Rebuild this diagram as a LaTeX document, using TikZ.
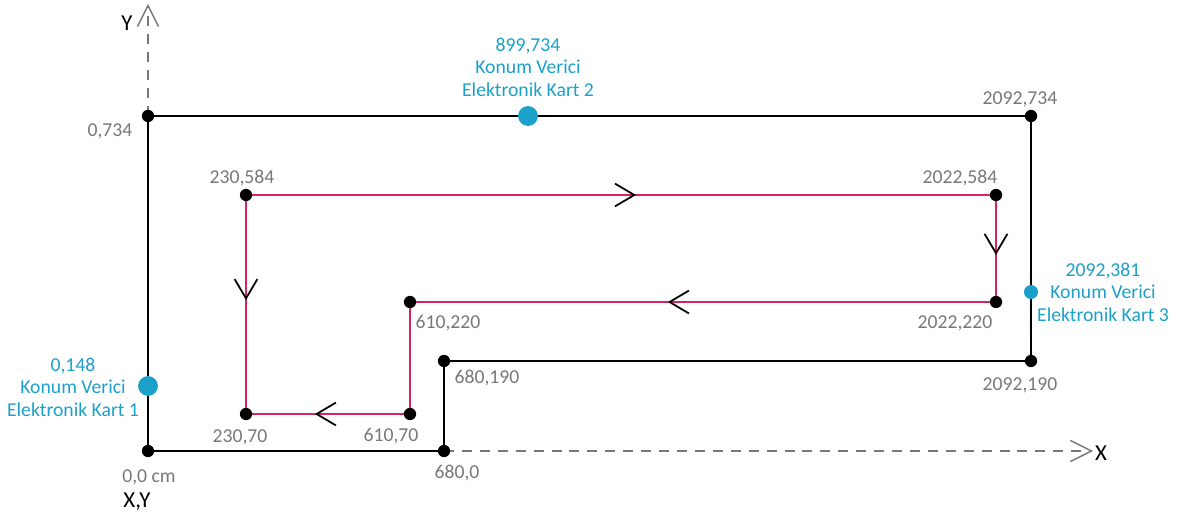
\documentclass[tikz,border=0pt]{standalone}
\usepackage{fontspec}
\setmainfont{Carlito}
\usetikzlibrary{arrows.meta,decorations.markings}
\definecolor{kartblue}{RGB}{27,161,201}
\definecolor{routered}{RGB}{214,36,92}
\definecolor{coordgray}{RGB}{120,120,120}
\begin{document}
\begin{tikzpicture}[
        x = 0.02cm, % one pixel of the plan
        y = -0.02cm, % y runs downwards
        font = \fontsize{11.2}{12.8}\selectfont,
        flow/.style = {postaction = {decorate, decoration = {markings,
            mark = at position #1 with {\arrow[black, line width=1pt]{Straight Barb[length=11pt,width=13pt]}}}}}
      ]

      \tikzstyle{wall}=[black, line width=1.3pt]
      \tikzstyle{route}=[routered, line width=1.1pt]
      \tikzstyle{corner}=[circle, fill=black, inner sep=0pt, minimum size=7pt]
      \tikzstyle{kart}=[circle, fill=kartblue, inner sep=0pt, minimum size=11.3pt]
      \tikzstyle{coord}=[coordgray, inner sep=0pt]
      \tikzstyle{kartlabel}=[kartblue, align=center, inner sep=0pt]
      \tikzstyle{axislabel}=[black, inner sep=0pt, font=\fontsize{13}{14}\selectfont]
      \tikzstyle{axis}=[coordgray, line width=0.8pt, dash pattern=on 5.7pt off 4.5pt,
        -{Straight Barb[length=12pt,width=12pt,line width=0.8pt]}]

      \useasboundingbox (0,0) rectangle (1184,523);

      % room outline
      \coordinate (o) at (148,451);
      \coordinate (tl) at (148,116);
      \coordinate (tr) at (1031,116);
      \coordinate (br) at (1031,361);
      \coordinate (nb) at (444,361);
      \coordinate (nf) at (444,451);

      % route
      \coordinate (r1) at (246,195);
      \coordinate (r2) at (996,195);
      \coordinate (r3) at (996,302);
      \coordinate (r4) at (410,302);
      \coordinate (r5) at (410,414);
      \coordinate (r6) at (246,414);

      \coordinate (ytip) at (148,4);
      \coordinate (xtip) at (1093,451);

      \draw[axis] (tl) -- (ytip);
      \draw[axis] (nf) -- (xtip);

      \draw[wall] (o) -- (tl) -- (tr) -- (br) -- (nb) -- (nf) -- cycle;

      \draw[route, flow=0.52] (r1) -- (r2);
      \draw[route, flow=0.56] (r2) -- (r3);
      \draw[route, flow=0.56] (r3) -- (r4);
      \draw[route] (r4) -- (r5);
      \draw[route, flow=0.58] (r5) -- (r6);
      \draw[route, flow=0.48] (r1) -- (r6);

      \foreach \c in {o,tl,tr,br,nb,nf,r1,r2,r3,r4,r5,r6}
        \node[corner] at (\c) {};

      \node[kart] (k1) at (148,386) {};
      \node[kart] (k2) at (528,116) {};
      \node[kart, minimum size=8pt] (k3) at (1031,292) {};

      % labels
      \node[kartlabel] (k1l) at (73,387) {0,148\\Konum Verici\\Elektronik Kart 1};
      \node[kartlabel] (k2l) at (528,67) {899,734\\Konum Verici\\Elektronik Kart 2};
      \node[kartlabel] (k3l) at (1103,292) {2092,381\\Konum Verici\\Elektronik Kart 3};

      \node[coord] (ltl) at (110,131) {0,734};
      \node[coord] (ltr) at (1020,99) {2092,734};
      \node[coord] (lbr) at (1020,385) {2092,190};
      \node[coord] (lnb) at (487,378) {680,190};
      \node[coord] (lnf) at (457,473) {680,0};
      \node[coord] (lo) at (149,477) {0,0 cm};
      \node[coord] (lr1) at (242,178) {230,584};
      \node[coord] (lr2) at (960,178) {2022,584};
      \node[coord] (lr3) at (955,323) {2022,220};
      \node[coord] (lr4) at (448,323) {610,220};
      \node[coord] (lr5) at (391,436) {610,70};
      \node[coord] (lr6) at (240,437) {230,70};

      \node[axislabel] (ly) at (127,23) {Y};
      \node[axislabel] (lx) at (1101,453) {X};
      \node[axislabel] (lxy) at (137,502) {X,Y};

    \end{tikzpicture}
\end{document}
